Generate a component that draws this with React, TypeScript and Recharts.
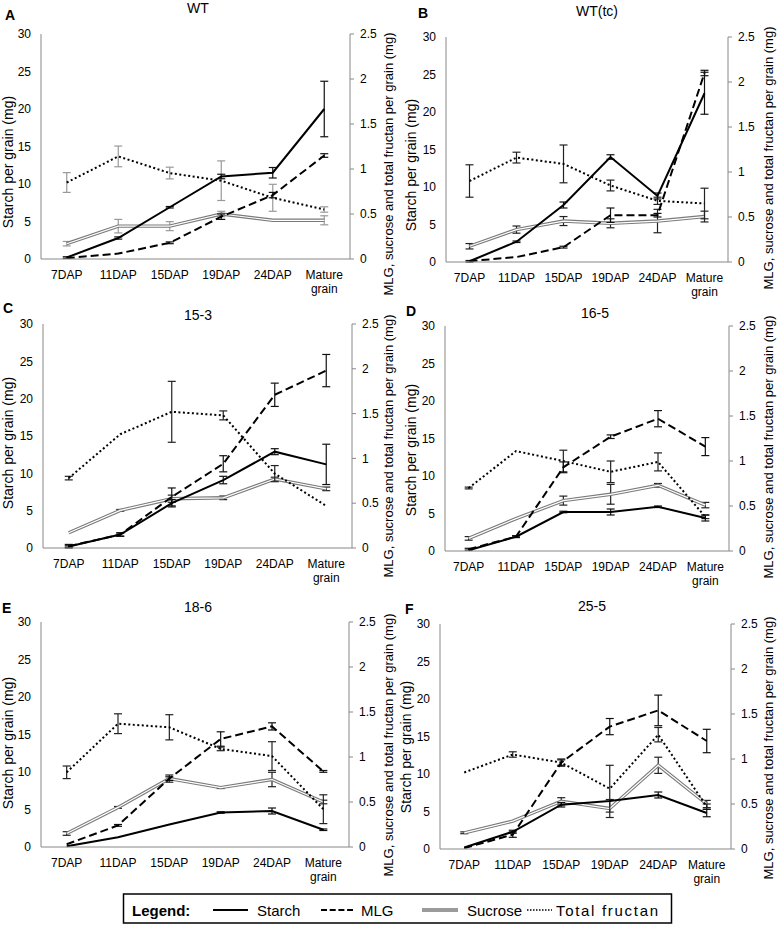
import React from 'react';
import { LineChart, Line, XAxis, YAxis, ErrorBar } from 'recharts';

const categories = ['7DAP', '11DAP', '15DAP', '19DAP', '24DAP', 'Mature grain'];
const starchTicks = [0, 5, 10, 15, 20, 25, 30];
const mgTicks = [0, 0.5, 1, 1.5, 2, 2.5];
const panelTitles = ['WT', 'WT(tc)', '15-3', '16-5', '18-6', '25-5'];
const panelLetters = ['A', 'B', 'C', 'D', 'E', 'F'];
const leftLabel = 'Starch per grain (mg)';
const rightLabel = 'MLG, sucrose and total fructan per grain (mg)';

// A: WT
const wtStarch = [0.2, 2.8, 6.9, 11.0, 11.5, 20.0];
const wtStarchErr = [0.1, 0.15, 0.1, 0.3, 0.7, 3.7];
const wtMlg = [0.01, 0.06, 0.18, 0.47, 0.71, 1.15];
const wtMlgErr = [0, 0, 0.01, 0.03, 0.03, 0.02];
const wtSucrose = [0.17, 0.365, 0.365, 0.5, 0.43, 0.43];
const wtSucroseErr = [0.025, 0.075, 0.05, 0.03, 0, 0.05];
const wtFructan = [0.85, 1.14, 0.955, 0.87, 0.68, 0.55];
const wtFructanErr = [0.11, 0.115, 0.065, 0.22, 0.15, 0.03];

// B: WT(tc)
const tcStarch = [0.1, 2.7, 7.6, 14.0, 8.8, 22.5];
const tcStarchErr = [0.1, 0.1, 0.4, 0.3, 0.4, 2.8];
const tcMlg = [0.01, 0.055, 0.165, 0.52, 0.52, 2.1];
const tcMlgErr = [0, 0, 0.01, 0.08, 0.02, 0.03];
const tcSucrose = [0.175, 0.36, 0.455, 0.43, 0.455, 0.505];
const tcSucroseErr = [0.03, 0.04, 0.05, 0.05, 0.13, 0.06];
const tcFructan = [0.9, 1.16, 1.09, 0.85, 0.68, 0.65];
const tcFructanErr = [0.18, 0.06, 0.21, 0.06, 0.04, 0.17];

// C: 15-3
const l153Starch = [0.2, 1.8, 6.0, 9.1, 12.9, 11.2];
const l153StarchErr = [0.1, 0.2, 0.5, 0.5, 0.4, 2.7];
const l153Mlg = [0.02, 0.15, 0.57, 0.94, 1.71, 1.98];
const l153MlgErr = [0.02, 0.02, 0.1, 0.09, 0.13, 0.18];
const l153Sucrose = [0.17, 0.42, 0.55, 0.56, 0.77, 0.66];
const l153SucroseErr = [0, 0.01, 0.04, 0.02, 0.02, 0.02];
const l153Fructan = [0.78, 1.27, 1.52, 1.48, 0.83, 0.47];
const l153FructanErr = [0.02, 0, 0.34, 0.05, 0.09, 0];

// D: 16-5
const l165Starch = [0.1, 1.9, 5.2, 5.2, 5.9, 4.4];
const l165StarchErr = [0, 0.1, 0.1, 0.4, 0.1, 0.4];
const l165Mlg = [0.02, 0.16, 0.93, 1.27, 1.47, 1.16];
const l165MlgErr = [0.01, 0.01, 0.06, 0.02, 0.09, 0.1];
const l165Sucrose = [0.14, 0.36, 0.56, 0.63, 0.73, 0.51];
const l165SucroseErr = [0.02, 0, 0.05, 0.11, 0.02, 0.03];
const l165Fructan = [0.7, 1.11, 1.0, 0.88, 0.99, 0.38];
const l165FructanErr = [0.01, 0, 0.12, 0.12, 0.1, 0.02];

// E: 18-6
const l186Starch = [0.1, 1.3, 3.0, 4.6, 4.8, 2.3];
const l186StarchErr = [0, 0, 0, 0.1, 0.4, 0.1];
const l186Mlg = [0.03, 0.24, 0.76, 1.2, 1.34, 0.84];
const l186MlgErr = [0, 0.01, 0.02, 0.08, 0.04, 0.01];
const l186Sucrose = [0.15, 0.44, 0.76, 0.66, 0.75, 0.5];
const l186SucroseErr = [0.02, 0.01, 0.04, 0.01, 0.08, 0.02];
const l186Fructan = [0.83, 1.37, 1.33, 1.09, 1.01, 0.42];
const l186FructanErr = [0.07, 0.11, 0.14, 0.02, 0.16, 0.16];

// F: 25-5
const l255Starch = [0.2, 2.3, 5.9, 6.4, 7.2, 4.8];
const l255StarchErr = [0, 0.2, 0.3, 0, 0.4, 0.5];
const l255Mlg = [0.01, 0.16, 0.96, 1.36, 1.54, 1.2];
const l255MlgErr = [0, 0.03, 0.04, 0.09, 0.17, 0.13];
const l255Sucrose = [0.18, 0.31, 0.53, 0.45, 0.93, 0.5];
const l255SucroseErr = [0.01, 0, 0.04, 0.1, 0.09, 0.04];
const l255Fructan = [0.85, 1.05, 0.96, 0.67, 1.27, 0.47];
const l255FructanErr = [0, 0.03, 0.03, 0.26, 0.08, 0.03];

const panelSeries = [
  [wtStarch, wtStarchErr, wtMlg, wtMlgErr, wtSucrose, wtSucroseErr, wtFructan, wtFructanErr],
  [tcStarch, tcStarchErr, tcMlg, tcMlgErr, tcSucrose, tcSucroseErr, tcFructan, tcFructanErr],
  [l153Starch, l153StarchErr, l153Mlg, l153MlgErr, l153Sucrose, l153SucroseErr, l153Fructan, l153FructanErr],
  [l165Starch, l165StarchErr, l165Mlg, l165MlgErr, l165Sucrose, l165SucroseErr, l165Fructan, l165FructanErr],
  [l186Starch, l186StarchErr, l186Mlg, l186MlgErr, l186Sucrose, l186SucroseErr, l186Fructan, l186FructanErr],
  [l255Starch, l255StarchErr, l255Mlg, l255MlgErr, l255Sucrose, l255SucroseErr, l255Fructan, l255FructanErr],
];

// layout (plot-area rectangles and text anchors)
const layouts = [
  { left: 41, top: 34, w: 309, h: 225, titleX: 198, titleY: 13, letterX: 5, letterY: 20, lx: 8, ly: 162, rx: 388, ry: 164, softErr: '#999' },
  { left: 446, top: 37, w: 282, h: 225, titleX: 597, titleY: 16, letterX: 418, letterY: 18, lx: 411, ly: 165, rx: 768, ry: 158, softErr: '#222' },
  { left: 43, top: 324, w: 309, h: 224, titleX: 198, titleY: 320, letterX: 3, letterY: 313, lx: 8, ly: 443, rx: 388, ry: 446, softErr: '#222' },
  { left: 445, top: 326, w: 284, h: 225, titleX: 595, titleY: 318, letterX: 406, letterY: 316, lx: 411, ly: 450, rx: 768, ry: 447, softErr: '#222' },
  { left: 41, top: 622, w: 308, h: 225, titleX: 198, titleY: 612, letterX: 2, letterY: 613, lx: 8, ly: 743, rx: 388, ry: 745, softErr: '#222' },
  { left: 440, top: 624, w: 291, h: 225, titleX: 592, titleY: 611, letterX: 405, letterY: 614, lx: 406, ly: 747, rx: 768, ry: 748, softErr: '#222' },
];

const FONT = '"Liberation Sans", Arial, Helvetica, sans-serif';
const AXIS = '#888';

function XTick(props: any) {
  const { x, y, payload } = props;
  const words = String(payload.value).split(' ');
  return (
    <g>
      {words.map((w: string, i: number) => (
        <text key={i} x={x} y={y + 20 + i * 13.5} textAnchor="middle" fill="#000" fontSize={12} fontFamily={FONT}>
          {w}
        </text>
      ))}
    </g>
  );
}

function Panel({ idx }: { idx: number }) {
  const L = layouts[idx];
  const [st, stE, ml, mlE, su, suE, fr, frE] = panelSeries[idx];
  const data = categories.map((c, i) => ({
    cat: c,
    starch: st[i], starchErr: stE[i],
    mlg: ml[i], mlgErr: mlE[i],
    sucrose: su[i], sucroseInner: su[i], sucroseErr: suE[i],
    fructan: fr[i], fructanErr: frE[i],
  }));
  const W = L.w + 80;
  const H = L.h + 10 + 45;
  return (
    <div style={{ position: 'absolute', left: L.left - 40, top: L.top - 10 }}>
      <LineChart width={W} height={H} data={data} margin={{ top: 10, right: 0, bottom: 0, left: 0 }}>
        <XAxis
          dataKey="cat"
          scale="band"
          interval={0}
          tickLine={false}
          tickSize={0}
          tickMargin={0}
          tick={<XTick />}
          axisLine={{ stroke: AXIS }}
          height={45}
        />
        <YAxis
          yAxisId="L"
          domain={[0, 30]}
          ticks={starchTicks}
          interval={0}
          width={40}
          tickLine={false}
          tickSize={0}
          tickMargin={10}
          axisLine={{ stroke: AXIS }}
          tick={{ fill: '#000', fontSize: 12, fontFamily: FONT }}
        />
        <YAxis
          yAxisId="R"
          orientation="right"
          domain={[0, 2.5]}
          ticks={mgTicks}
          interval={0}
          width={40}
          tickLine={{ stroke: AXIS }}
          tickSize={4}
          tickMargin={6}
          axisLine={{ stroke: AXIS }}
          tick={{ fill: '#000', fontSize: 12, fontFamily: FONT }}
        />
        <Line yAxisId="R" dataKey="sucrose" stroke="#7a7a7a" strokeWidth={3.4} dot={false} activeDot={false} isAnimationActive={false}>
          <ErrorBar dataKey="sucroseErr" width={4} stroke={L.softErr} strokeWidth={1.2} direction="y" isAnimationActive={false} />
        </Line>
        <Line yAxisId="R" dataKey="sucroseInner" stroke="#ffffff" strokeWidth={1.2} dot={false} activeDot={false} isAnimationActive={false} />
        <Line yAxisId="R" dataKey="fructan" stroke="#000" strokeWidth={2} strokeDasharray="2 2.5" dot={false} activeDot={false} isAnimationActive={false}>
          <ErrorBar dataKey="fructanErr" width={4} stroke={L.softErr} strokeWidth={1.2} direction="y" isAnimationActive={false} />
        </Line>
        <Line yAxisId="R" dataKey="mlg" stroke="#000" strokeWidth={2} strokeDasharray="8 4" dot={false} activeDot={false} isAnimationActive={false}>
          <ErrorBar dataKey="mlgErr" width={4} stroke="#111" strokeWidth={1.2} direction="y" isAnimationActive={false} />
        </Line>
        <Line yAxisId="L" dataKey="starch" stroke="#000" strokeWidth={2} dot={false} activeDot={false} isAnimationActive={false}>
          <ErrorBar dataKey="starchErr" width={4} stroke="#111" strokeWidth={1.2} direction="y" isAnimationActive={false} />
        </Line>
      </LineChart>
    </div>
  );
}

function Overlay() {
  return (
    <svg width={777} height={926} style={{ position: 'absolute', left: 0, top: 0, pointerEvents: 'none' }} fontFamily={FONT}>
      {layouts.map((L, i) => (
        <g key={i}>
          <text x={L.titleX} y={L.titleY} textAnchor="middle" fontSize={14} fill="#000">{panelTitles[i]}</text>
          <text x={L.letterX} y={L.letterY} fontSize={14} fontWeight="bold" fill="#000">{panelLetters[i]}</text>
          <text transform={`translate(${L.lx},${L.ly}) rotate(-90)`} textAnchor="middle" dy="0.35em" fontSize={14} fill="#000">{leftLabel}</text>
          <text transform={`translate(${L.rx},${L.ry}) rotate(-90)`} textAnchor="middle" dy="0.35em" fontSize={13} fill="#000">{rightLabel}</text>
        </g>
      ))}
      <g>
        <rect x={123.5} y={894} width={548} height={29} fill="#fff" stroke="#000" strokeWidth={1.5} />
        <text x={132} y={916} fontSize={15} fontWeight="bold" fill="#000">Legend:</text>
        <line x1={213} y1={910} x2={248} y2={910} stroke="#000" strokeWidth={2.2} />
        <text x={257} y={916} fontSize={15} fill="#000">Starch</text>
        <line x1={321} y1={910} x2={353} y2={910} stroke="#000" strokeWidth={2.2} strokeDasharray="6 2.7" />
        <text x={361} y={916} fontSize={15} fill="#000">MLG</text>
        <line x1={422} y1={910} x2={458} y2={910} stroke="#7a7a7a" strokeWidth={3.4} />
        <line x1={422} y1={910} x2={458} y2={910} stroke="#bbb" strokeWidth={1.2} />
        <text x={467} y={916} fontSize={15} fill="#000">Sucrose</text>
        <line x1={527} y1={910} x2={552} y2={910} stroke="#000" strokeWidth={1.5} strokeDasharray="1.5 1.5" />
        <text x={556} y={916} fontSize={15} fill="#000" textLength={102} lengthAdjust="spacing">Total fructan</text>
      </g>
    </svg>
  );
}

export default function App() {
  return (
    <div style={{ position: 'relative', width: 777, height: 926, background: '#fff', fontFamily: FONT, overflow: 'hidden' }}>
      <style>{`body{margin:0;}`}</style>
      {layouts.map((_, i) => (
        <Panel key={i} idx={i} />
      ))}
      <Overlay />
    </div>
  );
}
